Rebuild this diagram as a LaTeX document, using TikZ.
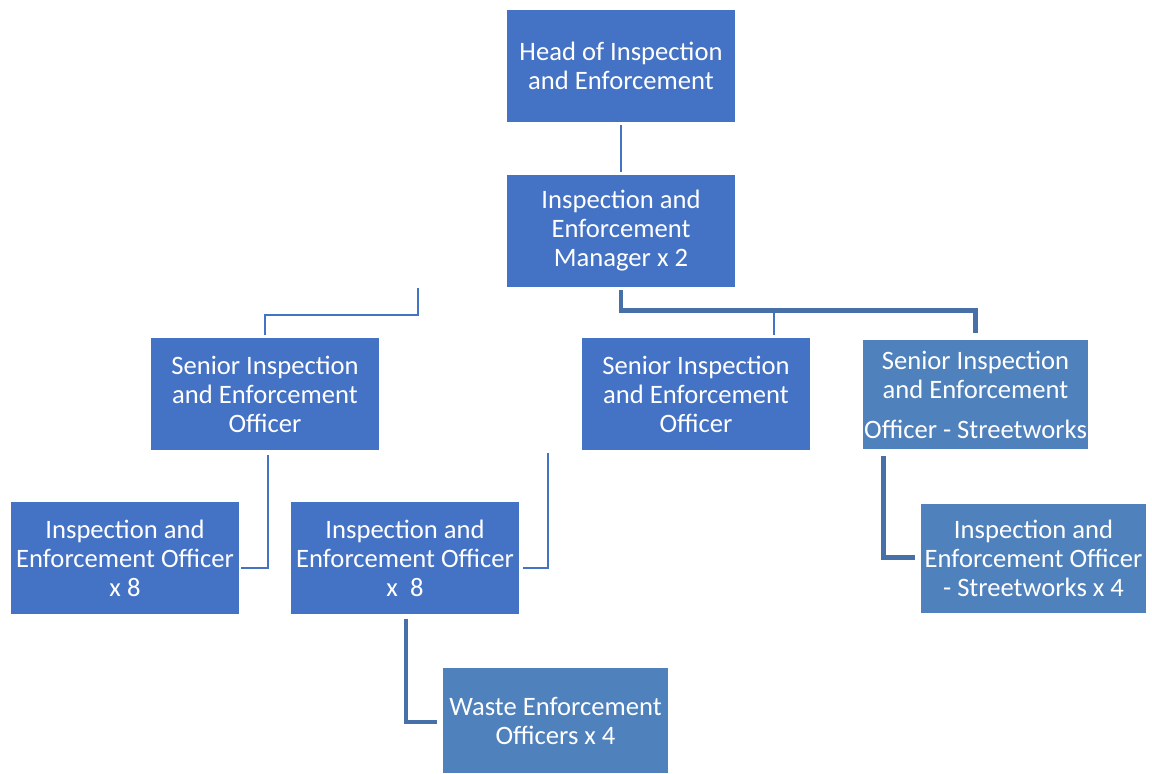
\documentclass[tikz,border=0pt]{standalone}
\usepackage{fontspec}
\setmainfont{Carlito}
\usetikzlibrary{positioning,calc}
\definecolor{boxblue}{HTML}{4472C4}
\definecolor{lightblue}{HTML}{4F81BD}
\definecolor{linkblue}{HTML}{4472C4}
\definecolor{darklink}{HTML}{4870A8}
\tikzset{
  every node/.append style={font=\fontsize{13.3}{14.5}\selectfont},
}
\tikzset{
  box/.style={fill=boxblue, text=white, align=center, inner sep=2pt, minimum width=114pt, minimum height=56pt},
  lightbox/.style={box, fill=lightblue, inner xsep=0pt, minimum width=112.5pt, minimum height=54.5pt},
  thinlink/.style={draw=linkblue, line width=1.25pt},
  thicklink/.style={draw=darklink, line width=2.25pt}
}
\begin{document}
\begin{tikzpicture}[x=0.5pt, y=-0.5pt]
\useasboundingbox (0,0) rectangle (1152,774);

% Top of the chart
\node[box] (head) at (621,66) {Head of Inspection\\and Enforcement};
\node[box] (manager) at (621,231) {Inspection and\\Enforcement\\Manager x 2};

% Senior officers
\node[box] (senior1) at (265,394) {Senior Inspection\\and Enforcement\\Officer};
\node[box] (senior2) at (696,394) {Senior Inspection\\and Enforcement\\Officer};
\node[lightbox] (senior3) at (975.5,394.5) {Senior Inspection\\and Enforcement\\[5.5pt]Officer - Streetworks};

% Officers
\node[box] (officer1) at (125,558.5) {Inspection and\\Enforcement Officer\\x 8};
\node[box] (officer2) at (405,558.5) {Inspection and\\Enforcement Officer\\x\ \ 8};
\node[lightbox] (streetofficer) at (1033.5,558.5) {Inspection and\\Enforcement Officer\\- Streetworks x 4};
\node[lightbox, minimum height=52.5pt] (waste) at (555.5,720.5) {Waste Enforcement\\Officers x 4};

% Free ends of the loose connectors
\coordinate (leftdrop) at (418,288);
\coordinate (tick) at (774,313);
\coordinate (rightdrop) at (548,453);

% Thin connectors
\draw[thinlink, shorten <=1.5pt, shorten >=1.5pt] (head.south) -- (manager.north);
\draw[thinlink, shorten >=1.5pt] (leftdrop) -- ++(0,27) -| (senior1.north);
\draw[thinlink, shorten >=1.5pt] (tick) -- (tick |- senior2.north);
\draw[thinlink] ($(senior1.south)+(3,5)$) |- ($(officer1.east)+(2,9.5)$);
\draw[thinlink] (rightdrop) |- ($(officer2.east)+(4,9.5)$);

% Thick connectors
\draw[thicklink, shorten <=1.5pt, shorten >=3.5pt] (manager.south) -- ++(0,23) -| (senior3.north);
\draw[thicklink] ($(senior3.south west)+(21,6.5)$) |- ($(streetofficer.west)+(-6,-1)$);
\draw[thicklink] ($(officer2.south)+(1,4)$) |- ($(waste.west)+(-6,1.5)$);
\end{tikzpicture}
\end{document}
